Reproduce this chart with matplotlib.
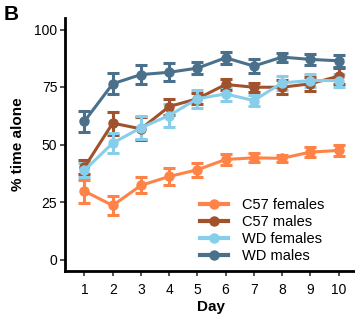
import matplotlib
matplotlib.use("Agg")
import matplotlib.pyplot as plt
from matplotlib.lines import Line2D
import numpy as np

plt.rcParams['font.family'] = ['Liberation Sans', 'DejaVu Sans']

days = [1, 2, 3, 4, 5, 6, 7, 8, 9, 10]
groups = ["C57 females", "C57 males", "WD females", "WD males"]
colors = ["#FF8247", "#A0522D", "#87CEEB", "#4A708B"]

c57_females = [29.7, 23.5, 32.2, 36.1, 39.0, 43.5, 44.2, 44.0, 46.7, 47.4]
c57_females_err = [5.0, 4.0, 3.5, 3.5, 3.0, 2.5, 2.0, 1.5, 2.0, 2.5]
c57_males = [40.1, 59.3, 56.8, 66.5, 69.9, 76.1, 74.9, 74.9, 76.4, 79.7]
c57_males_err = [3.0, 5.0, 5.0, 3.5, 2.5, 2.5, 2.0, 3.0, 3.0, 3.5]
wd_females = [38.8, 50.6, 57.3, 62.6, 69.9, 72.0, 69.1, 76.8, 77.8, 77.8]
wd_females_err = [3.0, 4.5, 5.0, 5.0, 4.0, 3.0, 2.5, 3.0, 3.0, 3.0]
wd_males = [60.1, 76.4, 80.4, 81.4, 83.2, 87.7, 84.1, 88.0, 87.0, 86.4]
wd_males_err = [4.5, 4.5, 4.0, 4.0, 2.5, 2.5, 3.0, 2.0, 2.5, 2.5]

means = [c57_females, c57_males, wd_females, wd_males]
errs = [c57_females_err, c57_males_err, wd_females_err, wd_males_err]

yticks = [0, 25, 50, 75, 100]

fig = plt.figure(figsize=(3.55, 3.23), dpi=100)
ax = fig.add_axes([65/355, 52/323, 293/355, 253/323])

handles = []
for name, m, e, c in zip(groups, means, errs, colors):
    ax.errorbar(days, m, yerr=e, color=c, lw=2.2, marker='o', ms=6.5,
                capsize=4, capthick=2.2, elinewidth=2.2)
    handles.append(Line2D([], [], color=c, lw=3, marker='o', ms=6.5, label=name))

ax.set_xlim(0.31, 10.69)
ax.set_ylim(-5, 105)
ax.set_xticks(days)
ax.set_yticks(yticks)
ax.tick_params(axis='both', length=3.5, width=1.2, labelsize=10, colors='#333333',
               labelcolor='black', pad=2)
ax.tick_params(axis='x', pad=5)
for s in ['top', 'right']:
    ax.spines[s].set_visible(False)
for s in ['left', 'bottom']:
    ax.spines[s].set_linewidth(2)
    ax.spines[s].set_color('black')

ax.set_xlabel("Day", fontsize=11, fontweight='bold', labelpad=2)
ax.set_ylabel("% time alone", fontsize=11, fontweight='bold', labelpad=7)

leg = fig.legend(handles=handles, loc='upper left',
                 bbox_to_anchor=(200/355, 1 - 198/323), frameon=False,
                 fontsize=10.5, handlelength=1.9, labelspacing=0.2, handletextpad=1.0,
                 borderaxespad=0, borderpad=0)

fig.text(0.01, 0.985, "B", fontsize=15, fontweight='bold', va='top', ha='left')

fig.savefig("out.png", dpi=100)
